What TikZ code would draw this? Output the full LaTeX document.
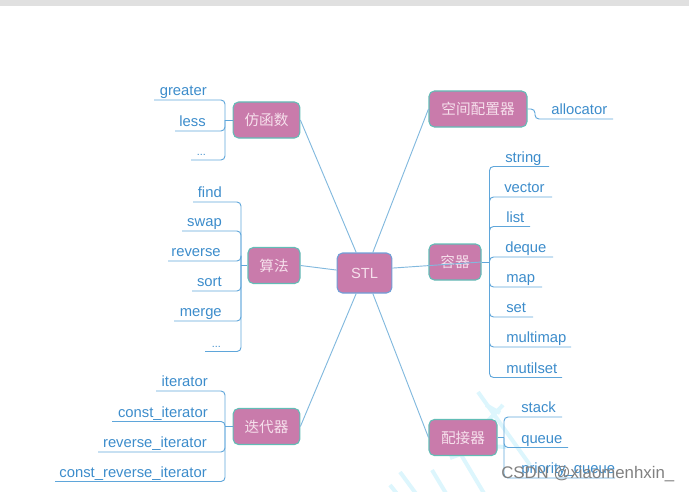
\documentclass[tikz,border=0pt]{standalone}
\usepackage{fontspec}
\setmainfont{Liberation Sans}
\newfontfamily\cjk{Noto Sans CJK SC}
\usetikzlibrary{positioning, calc}
\definecolor{boxfill}{HTML}{C97BAB}
\definecolor{boxedge}{HTML}{62BDB6}
\definecolor{rootedge}{HTML}{6F9FD8}
\definecolor{boxtext}{HTML}{F6E0EC}
\definecolor{mainline}{HTML}{82B9DE}
\definecolor{branchline}{HTML}{5FA6DA}
\definecolor{leaftext}{HTML}{3C8CCB}
\definecolor{markstroke}{HTML}{DDF6FD}
\newcommand\leafdots{{\footnotesize ...}}
\tikzset{
    catbox/.style={draw=boxedge, fill=boxfill, line width=0.8pt, rounded corners=4pt,
        text=boxtext, font=\cjk\fontsize{11}{13}\selectfont, inner sep=0pt, minimum height=27pt},
    rootbox/.style={catbox, draw=rootedge, font=\fontsize{11}{13}\selectfont},
    mainlink/.style={draw=mainline, line width=0.7pt},
    branch/.style={draw=branchline, line width=0.7pt},
    spine/.style={branch, rounded corners=3pt},
    leafleft/.style={text=leaftext, font=\fontsize{11.1}{13}\selectfont, inner sep=0pt, anchor=base east},
    leafright/.style={text=leaftext, font=\fontsize{11.1}{13}\selectfont, inner sep=0pt, anchor=base west},
    brushstroke/.style={draw=markstroke, line width=3pt}
}
\begin{document}
\begin{tikzpicture}[x=0.75pt, y=-0.75pt]
\useasboundingbox (0,0) rectangle (689,492);
\fill[black!12] (0,0) rectangle (689,6);
% Watermark behind the tree
\foreach \xa/\ya/\xb/\yb in {478/392/530/465, 503/405/458/452, 460/453/485/495, 432/470/447/495, 400/472/417/495, 390/485/398/495, 470/445/506/447, 450/458/478/448, 486/405/500/413} {
    \draw[brushstroke] (\xa,\ya) -- (\xb,\yb);
}
% Boxes
\node[rootbox, minimum width=41pt, minimum height=30pt] (stl) at (364.5,273) {STL};
\node[catbox, minimum width=50pt] (functor) at (266.5,120) {仿函数};
\node[catbox, minimum width=39pt] (algo) at (274,265.5) {算法};
\node[catbox, minimum width=50pt] (iter) at (266.5,426.5) {迭代器};
\node[catbox, minimum width=73.5pt] (alloc) at (478,109) {空间配置器};
\node[catbox, minimum width=39pt] (contain) at (455,262) {容器};
\node[catbox, minimum width=51pt] (adapt) at (463,437.5) {配接器};
% Root links
\draw[mainlink] (stl.112) -- (functor.east);
\draw[mainlink] (stl.174) -- (algo.east);
\draw[mainlink] (stl.248) -- (iter.east);
\draw[mainlink] (stl.68) -- (alloc.west);
\draw[mainlink] (stl.10) -- (contain.east);
\draw[mainlink] (stl.292) -- (adapt.west);
% Left leaves
\coordinate (spineF) at (225,120);
\coordinate (spineA) at (241,255.5);
\coordinate (spineI) at (225,426.5);
\draw[branch] (functor.west) -- (spineF);
\draw[branch] (algo.west) -- (algo.west -| spineA);
\draw[branch] (iter.west) -- (spineI);
\foreach \n/\t/\xe/\xl/\yl/\sp in {
    greater/greater/207/154/100/spineF, less/less/206/175/131/spineF, fdots/\leafdots/206/191/160/spineF,
    find/find/222/193/202/spineA, swap/swap/222/182/231/spineA, reverse/reverse/221/168/261/spineA,
    sort/sort/222/192/291/spineA, merge/merge/222/174/321/spineA, adots/\leafdots/221/205/351.5/spineA,
    iterator/iterator/208/156/391/spineI, constiter/const\_iterator/208/112/421.5/spineI,
    reviter/reverse\_iterator/207/98/452/spineI, constrev/const\_reverse\_iterator/207/55/481.5/spineI} {
    \coordinate (\n-end) at (\xl,\yl);
    \node[leafleft] (\n) at (\xe,\yl-4.5) {\t};
    \draw[spine] (\sp) |- (\n-end);
}
% Right leaves
\coordinate (spineC) at (489.5,262);
\coordinate (spineB) at (504,437.5);
\draw[branch] (contain.east) -- (spineC);
\draw[branch] (adapt.east) -- (spineB);
\foreach \n/\t/\xs/\xl/\yl/\sp in {
    string/string/505/549/166.5/spineC, vector/vector/504/552/197/spineC, list/list/506/530/226.5/spineC,
    deque/deque/505/553/257/spineC, map/map/506/542/287/spineC, set/set/506/533/317/spineC,
    multimap/multimap/506/571/347/spineC, mutilset/mutilset/506/562/377.5/spineC,
    stack/stack/521/562/417/spineB, queue/queue/521/568/447.5/spineB, priority/priority\_queue/521/615/478/spineB} {
    \coordinate (\n-end) at (\xl,\yl);
    \node[leafright] (\n) at (\xs,\yl-4.5) {\t};
    \draw[spine] (\sp) |- (\n-end);
}
\node[leafright] (allocator) at (551,114.5) {allocator};
\coordinate (allocator-end) at (613,119);
\draw[spine] (alloc.east) -- (535,109) |- (allocator-end);
% CSDN mark
\node[inner sep=0pt, text=black!50, font=\fontsize{12.6}{14}\selectfont, anchor=base west] (csdn) at (501,478) {CSDN @xiaomenhxin\_};
\end{tikzpicture}
\end{document}
